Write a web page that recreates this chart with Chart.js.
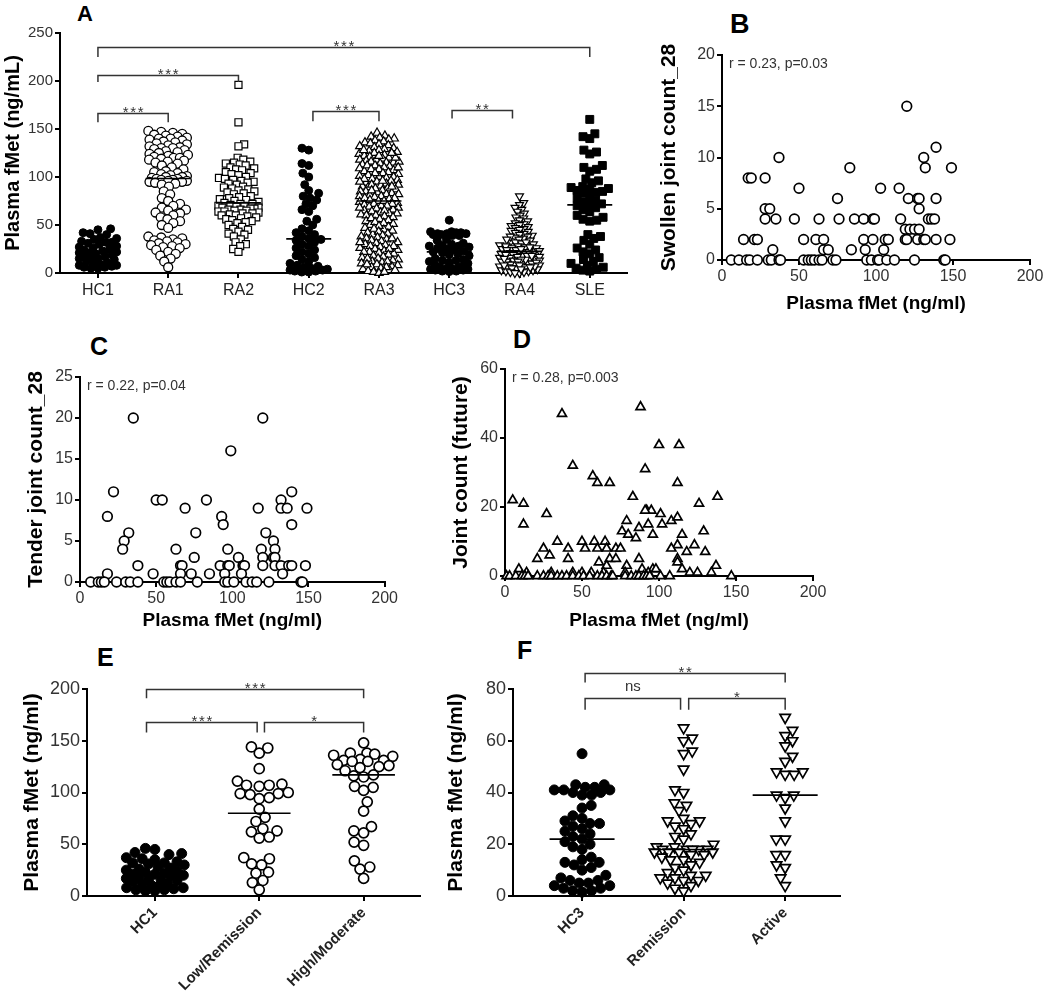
<!DOCTYPE html>
<html>
<head>
<meta charset="utf-8">
<script src="https://cdn.jsdelivr.net/npm/chart.js@4.4.1/dist/chart.umd.min.js"></script>
<style>
html, body { margin: 0; padding: 0; background: #fff; }
#fig { position: relative; width: 1050px; height: 996px; overflow: hidden; background: #fff; }
#fig canvas { position: absolute; }
.tag { position: absolute; font-family: 'Liberation Sans', Arial, sans-serif; font-weight: bold; line-height: 1; color: #000; }
</style>
</head>
<body>
<div id="fig">
  <div class="tag" style="left:77px;top:3px;font-size:22px">A</div>
  <div class="tag" style="left:730px;top:11px;font-size:27px">B</div>
  <div class="tag" style="left:90px;top:334px;font-size:25px">C</div>
  <div class="tag" style="left:513px;top:327px;font-size:25px">D</div>
  <div class="tag" style="left:97px;top:645px;font-size:25px">E</div>
  <div class="tag" style="left:517px;top:638px;font-size:25px">F</div>
</div>
<script>
const FONT = "'Liberation Sans', Arial, Helvetica, sans-serif"

// ---- panel A : plasma fMet per cohort
const groupsA = ['HC1', 'RA1', 'RA2', 'HC2', 'RA3', 'HC3', 'RA4', 'SLE']
const hc1 = [46, 45, 42, 41, 40, 37, 36, 35, 33, 32, 32, 31, 30, 28, 27, 26, 25, 24, 23, 22, 21, 21, 20, 19, 18, 17, 16, 15, 15, 14, 12, 11, 10, 9, 8, 8, 7, 6, 6, 5, 5]
const ra1 = [148, 147, 146, 145, 144, 143, 142, 141, 140, 140, 139, 138,
  137, 136, 135, 134, 133, 132, 131, 130, 130, 129, 128, 127, 126, 125, 124, 123, 122, 121, 120, 120,
  119, 118, 117, 116, 115, 114, 112, 110,
  108, 106, 105, 104, 103, 102, 101, 100, 100, 99, 98, 98, 97, 97, 96, 96, 95, 95, 94, 93, 92, 90,
  85, 82, 78, 75, 72, 70, 68, 66, 65, 63, 62, 60, 58, 56, 54, 52, 50, 47,
  38, 37, 36, 35, 34, 33, 32, 31, 30, 29, 28, 27, 26, 24, 22, 20, 18, 15, 12, 6]
const ra2 = [196, 157, 134, 132, 120, 118, 116, 115, 114, 113, 112, 110, 109, 108, 107, 105, 104, 103, 102, 100,
  99, 98, 97, 96, 95, 94, 93, 92, 90, 89, 88, 87, 86, 85, 84, 83, 82, 80, 79, 78, 77, 76, 75, 74, 73,
  72, 72, 71, 70, 70, 69, 68, 68, 67, 67, 66, 66, 65, 65, 64, 64, 63, 62, 62, 61, 60, 60, 59, 58, 57,
  56, 55, 54, 53, 52, 50, 48, 46, 45, 43, 41, 40, 38, 35, 32, 30, 28, 25, 22]
const hc2 = [130, 128, 114, 112, 104, 100, 92, 86, 83, 80, 78, 76, 72, 70, 66, 64, 56, 54, 50, 46, 44, 42, 40, 38, 36,
  35, 34, 32, 30, 28, 26, 24, 22, 20, 18, 16, 14, 12, 10, 8, 7, 6, 5, 4, 3, 3, 2, 2, 1, 1]
const ra3 = [146, 143, 142, 141, 140,
  139, 138, 137, 136, 135, 134, 133, 132, 131, 130,
  129, 128, 127, 126, 125, 124, 123, 122, 121, 120, 119, 118, 117, 116, 115, 115, 116, 118, 120, 122, 125, 128,
  114, 113, 112, 111, 110, 109, 108, 107, 106, 105, 104, 103, 102, 101, 100, 112, 108, 104, 100, 110,
  99, 98, 97, 96, 95, 94, 93, 92, 91, 90, 89, 88, 87, 86, 85, 84, 83, 82, 81, 80, 98, 95, 92, 90, 88, 85, 82, 80, 96, 86,
  79, 78, 77, 76, 75, 74, 73, 72, 71, 70, 69, 68, 67, 66, 65, 64, 63, 62, 61, 60, 78, 75, 72, 70, 68, 65, 62, 60,
  59, 58, 56, 55, 54, 52, 51, 50, 48, 47, 45, 44, 42, 41, 40, 57, 53, 49, 46, 43,
  39, 38, 37, 36, 35, 34, 33, 32, 31, 30, 29, 28, 27, 26, 25, 24, 23, 22, 21, 20, 36, 32, 28, 25, 22,
  19, 18, 17, 16, 15, 14, 13, 12, 11, 10, 9, 8, 7, 6, 5, 4, 3, 2, 1, 0, 15, 12, 9, 6, 3, 1]
const hc3 = [55, 43, 43, 42, 42, 41, 41, 41, 40, 40, 39, 39, 35, 34, 31, 30, 29, 28, 28, 27, 26, 25, 24, 23,
  22, 21, 20, 19, 18, 15, 14, 13, 13, 12, 11, 10, 8, 7, 6, 6, 5, 5, 4, 4, 3, 3, 2, 2, 1.5]
const ra4 = [80, 73, 71, 68, 66, 64, 62, 60, 58, 57, 55, 54, 52, 51, 50,
  49, 48, 47, 46, 45, 44, 43, 42, 41, 40,
  39, 38, 37, 36, 35, 34, 33, 32, 31, 30, 38, 35, 32,
  29, 28, 27, 26, 25, 24, 23, 22, 21, 20, 28, 26, 24, 22, 20, 27, 25, 23, 21,
  19, 18, 17, 16, 15, 14, 13, 12, 11, 10, 18, 16, 14, 12, 10, 19, 17, 15, 13, 11, 18, 14, 12,
  9, 8, 7, 6, 5, 4, 3, 2, 1, 0, 9, 8, 7, 6, 5, 4, 3, 2, 1, 0, 8, 6]
const sle = [160, 145, 142, 140, 128, 126, 124, 112, 110, 108, 106, 98, 96, 94, 90, 89, 88, 87, 86, 85, 84, 83,
  80, 78, 76, 74, 72, 72, 70, 68, 66, 64, 60, 58, 56, 55, 54, 40, 38, 36, 34, 30, 26, 24, 22, 20, 16, 14,
  12, 10, 8, 6, 5, 4, 3, 2]
const valuesA = [hc1, ra1, ra2, hc2, ra3, hc3, ra4, sle]
const ticksA = [0, 50, 100, 150, 200, 250]

// ---- panel B : swollen joint count
const swollenFmet = [6, 11, 16, 18, 23, 30, 32, 37, 38, 53, 56, 58, 60, 63, 65, 72, 74, 94, 97, 101, 102, 107, 112, 125, 144, 145,
  33, 66, 69, 84, 93, 105,
  14, 21, 23, 53, 61, 66, 92, 98, 106, 108, 119, 120, 127, 131, 132, 139, 148,
  119, 122, 125, 128,
  28, 35, 47, 63, 76, 86, 92, 98, 99, 116, 134, 136, 138,
  28, 31, 128,
  75, 121, 127, 128, 139,
  50, 103, 115,
  17, 19, 28,
  83, 132, 149,
  37, 131,
  139,
  120]
const swollenCount = [0, 0, 0, 0, 0, 0, 0, 0, 0, 0, 0, 0, 0, 0, 0, 0, 0, 0, 0, 0, 0, 0, 0, 0, 0, 0,
  1, 1, 1, 1, 1, 1,
  2, 2, 2, 2, 2, 2, 2, 2, 2, 2, 2, 2, 2, 2, 2, 2, 2,
  3, 3, 3, 3,
  4, 4, 4, 4, 4, 4, 4, 4, 4, 4, 4, 4, 4,
  5, 5, 5,
  6, 6, 6, 6, 6,
  7, 7, 7,
  8, 8, 8,
  9, 9, 9,
  10, 10,
  11,
  15]

// ---- panel C : tender joint count
const tenderFmet = [35, 120, 99, 22, 139, 50, 54, 83, 132, 69, 117, 132, 136, 149, 18, 93, 94, 139, 32, 76, 122, 29, 127,
  28, 63, 97, 119, 128, 75, 104, 120, 127, 128,
  38, 66, 67, 92, 97, 98, 107, 108, 120, 128, 132, 137, 139, 148,
  18, 48, 66, 73, 85, 95, 106, 133,
  7, 12, 14, 16, 24, 30, 33, 38, 55, 57, 59, 63, 66, 77, 95, 97, 101, 109, 113, 116, 124, 145, 146]
const tenderCount = [20, 20, 16, 11, 11, 10, 10, 10, 10, 9, 9, 9, 9, 9, 8, 8, 7, 7, 6, 6, 6, 5, 5,
  4, 4, 4, 4, 4, 3, 3, 3, 3, 3,
  2, 2, 2, 2, 2, 2, 2, 2, 2, 2, 2, 2, 2, 2,
  1, 1, 1, 1, 1, 1, 1, 1,
  0, 0, 0, 0, 0, 0, 0, 0, 0, 0, 0, 0, 0, 0, 0, 0, 0, 0, 0, 0, 0, 0, 0]

// ---- panel D : future joint count
const futureFmet = [88, 37, 100, 113, 44, 91, 57, 60, 68, 112, 5, 12, 27, 12, 83, 126, 138, 92, 95, 91, 101, 79, 102, 93, 108, 112,
  76, 80, 87, 96, 115, 129, 85, 34, 50, 58, 65, 25, 41, 52, 60, 66, 72, 75, 112, 108, 123, 118, 130,
  21, 29, 41, 61, 68, 72, 87, 112, 112, 137, 9, 66, 79, 89, 96, 98, 115, 120, 125, 134,
  14, 30, 44, 50, 56, 64, 78, 93,
  1, 3, 7, 11, 13, 15, 21, 25, 28, 30, 34, 37, 40, 44, 48, 51, 55, 60, 63, 66, 69, 70, 78, 82, 85, 87, 90, 92, 94, 101, 107, 147]
const futureCount = [49, 47, 38, 38, 32, 31, 29, 27, 27, 27, 22, 21, 18, 15, 23, 21, 23, 19, 19, 19, 18, 16, 15, 15, 16, 17,
  13, 12, 14, 12, 12, 13, 11, 10, 10, 10, 10, 8, 8, 8, 8, 8, 8, 8, 9, 8, 9, 7, 7,
  5, 6, 5, 4, 5, 5, 5, 5, 4, 3, 2, 3, 3, 2, 2, 2, 2, 1, 1, 1,
  1, 1, 1, 1, 1, 1, 1, 1,
  0, 0, 0, 0, 0, 0, 0, 0, 0, 0, 0, 0, 0, 0, 0, 0, 0, 0, 0, 0, 0, 0, 0, 0, 0, 0, 0, 0, 0, 0, 0, 0]

// ---- panel E : disease activity (DAS28)
const groupsE = ['HC1', 'Low/Remission', 'High/Moderate']
const lowRemission = [144, 143, 138, 123, 111, 108, 107, 107, 106, 100, 99, 99, 98, 95, 94, 84, 76, 72, 65, 63, 62, 57, 56, 37, 36, 31, 30, 23, 22, 15, 13, 6]
const highModerate = [148, 138, 138, 137, 136, 135, 132, 131, 131, 130, 130, 127, 126, 125, 124, 121, 117, 116, 115, 106, 105, 102, 91, 82, 67, 63, 61, 52, 49, 34, 28, 26, 17]
const valuesE = [hc1, lowRemission, highModerate]

// ---- panel F : remission vs active
const groupsF = ['HC3', 'Remission', 'Active']
const remission = [65, 61, 60, 56, 55, 49, 41, 40, 36, 35, 33, 30, 29, 29, 28, 27, 26, 24, 23, 22, 20, 19, 19, 18, 18, 18, 18, 18,
  17, 17, 17, 17, 16, 16, 15, 14, 14, 13, 12, 11, 10, 9, 8, 8, 7, 7, 6, 6, 5, 4, 3, 2]
const active = [69, 64, 62, 60, 58, 54, 52, 48, 48, 47, 47, 39, 39, 38, 34, 29, 22, 22, 16, 16, 12, 11, 7, 4]
const valuesF = [hc3, remission, active]

// marker looks per group
const filledCircle = { pointStyle: 'circle', fill: true }
const openCircle = { pointStyle: 'circle', fill: false }
const openSquare = { pointStyle: 'rect', fill: false }
const filledSquare = { pointStyle: 'rect', fill: true }
const openTriangle = { pointStyle: 'triangle', fill: false }
const openDownTriangle = { pointStyle: 'triangle', fill: false, rotation: 180 }

const bracketPlugin = {
  id: 'brackets',
  afterDatasetsDraw(chart, args, opts) {
    const { ctx } = chart
    const x = chart.scales.x
    const y = chart.scales.y
    ctx.save()
    ctx.strokeStyle = '#333'
    ctx.fillStyle = '#333'
    ctx.lineWidth = 1.5
    ctx.textAlign = 'center'
    ctx.textBaseline = 'alphabetic'
    ;(opts.items || []).forEach(b => {
      const x1 = x.getPixelForValue(b.from)
      const x2 = x.getPixelForValue(b.to)
      const yt = Math.round(y.getPixelForValue(b.top)) + 0.5
      const yb = y.getPixelForValue(b.leg)
      ctx.beginPath()
      ctx.moveTo(x1, yb)
      ctx.lineTo(x1, yt)
      ctx.lineTo(x2, yt)
      ctx.lineTo(x2, yb)
      ctx.stroke()
      const cx = (x1 + x2) / 2
      ctx.font = '15px ' + FONT
      if (/^\*+$/.test(b.label)) {
        const n = b.label.length
        for (let k = 0; k < n; k++) {
          ctx.fillText('*', cx + (k - (n - 1) / 2) * 7.5, yt + 3)
        }
      } else {
        ctx.fillText(b.label, cx, yt - 8)
      }
    })
    if (opts.note) {
      ctx.font = '14px ' + FONT
      ctx.textAlign = 'left'
      ctx.textBaseline = 'top'
      ctx.fillText(opts.note, chart.chartArea.left + 7, chart.chartArea.top + 2)
    }
    ctx.restore()
  }
}

// beeswarm offsets, kept inside +-half px; when crowded, points overlap
function swarm(values, center, kx, ky, d, half) {
  const placed = []
  const order = values.map((v, i) => i).sort((a, b) => values[a] - values[b])
  const out = new Array(values.length)
  order.forEach((i, n) => {
    const py = values[i] * ky
    const near = placed.filter(p => Math.abs(p.py - py) < d)
    const cands = [0]
    near.forEach(p => {
      const dx = Math.sqrt(d * d - (p.py - py) ** 2)
      cands.push(p.px + dx, p.px - dx)
    })
    const side = n % 2 ? 1 : -1
    const key = c => Math.abs(c) + (c * side > 0 ? 0.01 : 0)
    const ok = cands.filter(c => Math.abs(c) <= half).sort((a, b) => key(a) - key(b))
    let px = null
    for (const c of ok) {
      if (near.every(p => (p.px - c) ** 2 + (p.py - py) ** 2 >= d * d - 0.5)) { px = c; break }
    }
    if (px === null) {
      let best = -1
      const step = d / 3
      const slots = []
      for (let s = 0; s <= half + 1e-6; s += step) { slots.push(s * side); if (s > 0) slots.push(-s * side) }
      slots.forEach(s => {
        const score = Math.min(...near.map(p => (p.px - s) ** 2 + (p.py - py) ** 2))
        if (score > best + 0.01) { best = score; px = s }
      })
    }
    placed.push({ px, py })
    out[i] = { x: center + px / kx, y: values[i] }
  })
  return out
}

function median(arr) {
  const s = [...arr].sort((a, b) => a - b)
  const n = s.length
  return n % 2 ? s[(n - 1) / 2] : (s[n / 2 - 1] + s[n / 2]) / 2
}

function makeCanvas(geo) {
  const cv = document.createElement('canvas')
  cv.width = geo.width
  cv.height = geo.height
  cv.style.left = geo.left + 'px'
  cv.style.top = geo.top + 'px'
  cv.style.width = geo.width + 'px'
  cv.style.height = geo.height + 'px'
  document.getElementById('fig').appendChild(cv)
  return cv
}

function axisLook(extra) {
  return Object.assign({
    border: { display: true, color: '#000', width: 2 },
    grid: { display: true, drawOnChartArea: false, drawTicks: true, tickLength: 5, tickColor: '#000', tickWidth: 2, lineWidth: 2 }
  }, extra)
}

// geometry: canvas box plus wanted chart area, in page pixels
function layoutFor(geo) {
  const yLH = geo.yTitleSize * 1.2
  const xLH = geo.xTitleSize ? geo.xTitleSize * 1.2 : 0
  const pl = geo.yTitleX - geo.left - yLH / 2
  const pb = geo.xTitleY ? geo.top + geo.height - geo.xTitleY - xLH / 2 : 0
  return {
    padding: {
      left: pl,
      top: geo.area.t - geo.top,
      right: geo.left + geo.width - geo.area.r,
      bottom: pb
    },
    yWidth: geo.area.l - geo.left - pl,
    xHeight: geo.top + geo.height - pb - geo.area.b
  }
}

function buildChart(geo, datasets, xScale, yScale, yTitle, xTitle, brackets, note) {
  const lay = layoutFor(geo)
  const cv = makeCanvas(geo)
  return new Chart(cv, {
    type: 'scatter',
    data: { datasets },
    options: {
      responsive: false,
      animation: false,
      events: [],
      layout: { autoPadding: false, padding: lay.padding },
      plugins: {
        legend: { display: false },
        tooltip: { enabled: false },
        brackets: { items: brackets, note }
      },
      scales: {
        x: axisLook(Object.assign({
          type: 'linear',
          afterFit: s => { s.height = lay.xHeight },
          title: xTitle
            ? { display: true, text: xTitle, color: '#000', padding: 0, font: { family: FONT, size: geo.xTitleSize, weight: 'bold' } }
            : { display: false }
        }, xScale)),
        y: axisLook(Object.assign({
          type: 'linear',
          afterFit: s => { s.width = lay.yWidth },
          title: { display: true, text: yTitle, color: '#000', padding: 0, font: { family: FONT, size: geo.yTitleSize, weight: 'bold' } }
        }, yScale))
      }
    },
    plugins: [bracketPlugin]
  })
}

function dotDatasets(values, looks, geo, xMin, xMax, yMax, sizes, lineHalf) {
  const kx = (geo.area.r - geo.area.l) / (xMax - xMin)
  const ky = (geo.area.b - geo.area.t) / yMax
  const sets = []
  values.forEach((vals, i) => {
    const look = looks[i]
    const sz = sizes[i]
    const m = median(vals)
    sets.push({
      type: 'line',
      data: [{ x: i - lineHalf, y: m }, { x: i + lineHalf, y: m }],
      borderColor: '#000',
      borderWidth: 1.6,
      pointRadius: 0,
      order: -1,
      clip: false
    })
    sets.push({
      data: swarm(vals, i, kx, ky, sz.gap, sz.half),
      pointStyle: look.pointStyle,
      pointRotation: look.rotation || 0,
      pointRadius: sz.r,
      pointBackgroundColor: look.fill ? '#000' : '#fff',
      pointBorderColor: '#000',
      pointBorderWidth: sz.bw,
      clip: false
    })
  })
  return sets
}

function catTicks(labels, font, rot) {
  return {
    afterBuildTicks: s => { s.ticks = labels.map((l, i) => ({ value: i })) },
    ticks: {
      autoSkip: false,
      padding: 3,
      color: '#222',
      font,
      minRotation: rot,
      maxRotation: rot,
      callback: v => labels[v]
    }
  }
}

function numTicks(list, size) {
  return {
    afterBuildTicks: s => { s.ticks = list.map(v => ({ value: v })) },
    ticks: { padding: 2, color: '#333', font: { family: FONT, size } }
  }
}

// ---------- A
const geoA = { left: 0, top: 0, width: 640, height: 300, area: { l: 60, t: 33, r: 627, b: 273 }, yTitleX: 13, yTitleSize: 20 }
const looksA = [filledCircle, openCircle, openSquare, filledCircle, openTriangle, filledCircle, openDownTriangle, filledSquare]
const sizesA = [
  { r: 4, gap: 7, bw: 1, half: 19 }, { r: 4.5, gap: 7, bw: 1.3, half: 20 }, { r: 5, gap: 6, bw: 1.2, half: 20 },
  { r: 4, gap: 7, bw: 1, half: 20 }, { r: 4.8, gap: 5.5, bw: 1.2, half: 20 }, { r: 4, gap: 7, bw: 1, half: 20 },
  { r: 4.6, gap: 4.6, bw: 1.2, half: 20 }, { r: 5.6, gap: 7, bw: 1, half: 19 }
]
buildChart(geoA,
  dotDatasets(valuesA, looksA, geoA, -0.54, 7.53, 250, sizesA, 0.32),
  Object.assign({ min: -0.54, max: 7.53 }, catTicks(groupsA, { family: FONT, size: 16 }, 0)),
  Object.assign({ min: 0, max: 250 }, numTicks(ticksA, 15)),
  'Plasma fMet (ng/mL)', null,
  [
    { from: 0, to: 7, top: 235, leg: 225, label: '***' },
    { from: 0, to: 2, top: 206, leg: 199, label: '***' },
    { from: 0, to: 1, top: 167, leg: 157, label: '***' },
    { from: 3.06, to: 4, top: 169, leg: 158, label: '***' },
    { from: 5.04, to: 5.9, top: 170, leg: 161, label: '**' }
  ])

// ---------- scatter panels
function scatterSet(xs, ys, look, r) {
  return [{
    data: xs.map((v, i) => ({ x: v, y: ys[i] })),
    pointStyle: look.pointStyle,
    pointRadius: r,
    pointBackgroundColor: '#fff',
    pointBorderColor: '#000',
    pointBorderWidth: 1.7,
    clip: false
  }]
}
const fmetTicks = [0, 50, 100, 150, 200]

const geoB = { left: 650, top: 0, width: 400, height: 320, area: { l: 722, t: 55, r: 1030, b: 260 }, yTitleX: 669, yTitleSize: 21, xTitleY: 304, xTitleSize: 19 }
buildChart(geoB, scatterSet(swollenFmet, swollenCount, openCircle, 4.8),
  Object.assign({ min: 0, max: 200 }, numTicks(fmetTicks, 16)),
  Object.assign({ min: 0, max: 20 }, numTicks([0, 5, 10, 15, 20], 16)),
  'Swollen joint count_28', 'Plasma fMet (ng/ml)', [], 'r = 0.23, p=0.03')

const geoC = { left: 0, top: 325, width: 400, height: 310, area: { l: 80, t: 377, r: 390, b: 582 }, yTitleX: 36, yTitleSize: 21, xTitleY: 621, xTitleSize: 19 }
buildChart(geoC, scatterSet(tenderFmet, tenderCount, openCircle, 4.8),
  Object.assign({ min: 0, max: 200 }, numTicks(fmetTicks, 16)),
  Object.assign({ min: 0, max: 25 }, numTicks([0, 5, 10, 15, 20, 25], 16)),
  'Tender joint count_28', 'Plasma fMet (ng/ml)', [], 'r = 0.22, p=0.04')

const geoD = { left: 405, top: 325, width: 430, height: 310, area: { l: 505, t: 369, r: 813, b: 576 }, yTitleX: 461, yTitleSize: 21, xTitleY: 621, xTitleSize: 19 }
buildChart(geoD, scatterSet(futureFmet, futureCount, openTriangle, 5.2),
  Object.assign({ min: 0, max: 200 }, numTicks(fmetTicks, 16)),
  Object.assign({ min: 0, max: 60 }, numTicks([0, 20, 40, 60], 16)),
  'Joint count (future)', 'Plasma fMet (ng/ml)', [], 'r = 0.28, p=0.003')

// ---------- E
const geoE = { left: 0, top: 640, width: 440, height: 356, area: { l: 87, t: 689, r: 420, b: 896 }, yTitleX: 32, yTitleSize: 21 }
const sizesE = [{ r: 5, gap: 9.5, bw: 1, half: 30 }, { r: 5, gap: 10, bw: 1.7, half: 32 }, { r: 5, gap: 10, bw: 1.7, half: 32 }]
buildChart(geoE,
  dotDatasets(valuesE, [filledCircle, openCircle, openCircle], geoE, -0.65, 2.54, 200, sizesE, 0.3),
  Object.assign({ min: -0.65, max: 2.54 }, catTicks(groupsE, { family: FONT, size: 15, weight: 'bold' }, 45)),
  Object.assign({ min: 0, max: 200 }, numTicks([0, 50, 100, 150, 200], 18)),
  'Plasma fMet (ng/ml)', null,
  [
    { from: -0.08, to: 2, top: 200, leg: 191, label: '***' },
    { from: -0.08, to: 0.98, top: 168, leg: 158, label: '***' },
    { from: 1.05, to: 2, top: 168, leg: 158, label: '*' }
  ])

// ---------- F
const geoF = { left: 440, top: 640, width: 420, height: 356, area: { l: 513, t: 689, r: 840, b: 896 }, yTitleX: 456, yTitleSize: 21 }
const sizesF = [{ r: 5, gap: 9.5, bw: 1, half: 31 }, { r: 6, gap: 9, bw: 1.7, half: 32 }, { r: 6, gap: 9, bw: 1.7, half: 24 }]
buildChart(geoF,
  dotDatasets(valuesF, [filledCircle, openDownTriangle, openDownTriangle], geoF, -0.68, 2.54, 80, sizesF, 0.32),
  Object.assign({ min: -0.68, max: 2.54 }, catTicks(groupsF, { family: FONT, size: 15, weight: 'bold' }, 45)),
  Object.assign({ min: 0, max: 80 }, numTicks([0, 20, 40, 60, 80], 18)),
  'Plasma fMet (ng/ml)', null,
  [
    { from: 0.03, to: 2, top: 86, leg: 82.5, label: '**' },
    { from: 0.03, to: 0.97, top: 76.6, leg: 72, label: 'ns' },
    { from: 1.05, to: 2, top: 76.6, leg: 72, label: '*' }
  ])
</script>
</body>
</html>
